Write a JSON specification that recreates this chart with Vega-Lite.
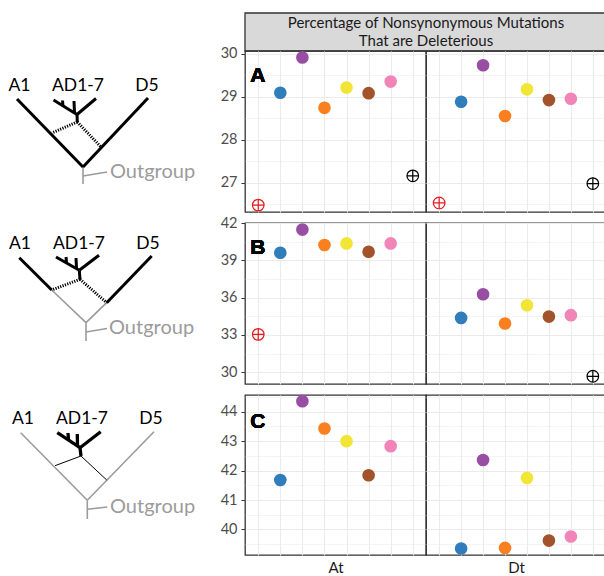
{
  "$schema": "https://vega.github.io/schema/vega-lite/v6.json",
  "padding": {"left": 0, "top": 12, "right": 0, "bottom": 0},
  "background": "white",
  "config": {
    "font": "Lato",
    "view": {"stroke": "#333333", "strokeWidth": 1.3},
    "axis": {"gridColor": "#EBEBEB", "labelFont": "Lato", "labelColor": "#4D4D4D", "labelFontSize": 14.5, "tickColor": "#333333", "tickSize": 4, "labelPadding": 4, "domain": false, "titleFont": "Lato", "titleFontWeight": "normal", "titleColor": "#1A1A1A", "titleFontSize": 15}
  },
  "datasets": {
    "pts": [
      {"row": "A", "genome": "At", "pos": 1, "group": "A1", "kind": "diploid", "value": 26.48},
      {"row": "A", "genome": "At", "pos": 2, "group": "AD1", "kind": "polyploid", "value": 29.09},
      {"row": "A", "genome": "At", "pos": 3, "group": "AD2", "kind": "polyploid", "value": 29.91},
      {"row": "A", "genome": "At", "pos": 4, "group": "AD3", "kind": "polyploid", "value": 28.74},
      {"row": "A", "genome": "At", "pos": 5, "group": "AD4", "kind": "polyploid", "value": 29.21},
      {"row": "A", "genome": "At", "pos": 6, "group": "AD5", "kind": "polyploid", "value": 29.08},
      {"row": "A", "genome": "At", "pos": 7, "group": "AD6", "kind": "polyploid", "value": 29.35},
      {"row": "A", "genome": "At", "pos": 8, "group": "D5", "kind": "diploid", "value": 27.16},
      {"row": "A", "genome": "Dt", "pos": 1, "group": "A1", "kind": "diploid", "value": 26.53},
      {"row": "A", "genome": "Dt", "pos": 2, "group": "AD1", "kind": "polyploid", "value": 28.88},
      {"row": "A", "genome": "Dt", "pos": 3, "group": "AD2", "kind": "polyploid", "value": 29.73},
      {"row": "A", "genome": "Dt", "pos": 4, "group": "AD3", "kind": "polyploid", "value": 28.55},
      {"row": "A", "genome": "Dt", "pos": 5, "group": "AD4", "kind": "polyploid", "value": 29.17},
      {"row": "A", "genome": "Dt", "pos": 6, "group": "AD5", "kind": "polyploid", "value": 28.92},
      {"row": "A", "genome": "Dt", "pos": 7, "group": "AD6", "kind": "polyploid", "value": 28.95},
      {"row": "A", "genome": "Dt", "pos": 8, "group": "D5", "kind": "diploid", "value": 26.98},
      {"row": "B", "genome": "At", "pos": 1, "group": "A1", "kind": "diploid", "value": 33.05},
      {"row": "B", "genome": "At", "pos": 2, "group": "AD1", "kind": "polyploid", "value": 39.61},
      {"row": "B", "genome": "At", "pos": 3, "group": "AD2", "kind": "polyploid", "value": 41.47},
      {"row": "B", "genome": "At", "pos": 4, "group": "AD3", "kind": "polyploid", "value": 40.23},
      {"row": "B", "genome": "At", "pos": 5, "group": "AD4", "kind": "polyploid", "value": 40.36},
      {"row": "B", "genome": "At", "pos": 6, "group": "AD5", "kind": "polyploid", "value": 39.69},
      {"row": "B", "genome": "At", "pos": 7, "group": "AD6", "kind": "polyploid", "value": 40.36},
      {"row": "B", "genome": "Dt", "pos": 2, "group": "AD1", "kind": "polyploid", "value": 34.37},
      {"row": "B", "genome": "Dt", "pos": 3, "group": "AD2", "kind": "polyploid", "value": 36.27},
      {"row": "B", "genome": "Dt", "pos": 4, "group": "AD3", "kind": "polyploid", "value": 33.92},
      {"row": "B", "genome": "Dt", "pos": 5, "group": "AD4", "kind": "polyploid", "value": 35.39},
      {"row": "B", "genome": "Dt", "pos": 6, "group": "AD5", "kind": "polyploid", "value": 34.48},
      {"row": "B", "genome": "Dt", "pos": 7, "group": "AD6", "kind": "polyploid", "value": 34.59},
      {"row": "B", "genome": "Dt", "pos": 8, "group": "D5", "kind": "diploid", "value": 29.68},
      {"row": "C", "genome": "At", "pos": 2, "group": "AD1", "kind": "polyploid", "value": 41.68},
      {"row": "C", "genome": "At", "pos": 3, "group": "AD2", "kind": "polyploid", "value": 44.36},
      {"row": "C", "genome": "At", "pos": 4, "group": "AD3", "kind": "polyploid", "value": 43.43},
      {"row": "C", "genome": "At", "pos": 5, "group": "AD4", "kind": "polyploid", "value": 43.0},
      {"row": "C", "genome": "At", "pos": 6, "group": "AD5", "kind": "polyploid", "value": 41.84},
      {"row": "C", "genome": "At", "pos": 7, "group": "AD6", "kind": "polyploid", "value": 42.83},
      {"row": "C", "genome": "Dt", "pos": 2, "group": "AD1", "kind": "polyploid", "value": 39.35},
      {"row": "C", "genome": "Dt", "pos": 3, "group": "AD2", "kind": "polyploid", "value": 42.36},
      {"row": "C", "genome": "Dt", "pos": 4, "group": "AD3", "kind": "polyploid", "value": 39.37},
      {"row": "C", "genome": "Dt", "pos": 5, "group": "AD4", "kind": "polyploid", "value": 41.75},
      {"row": "C", "genome": "Dt", "pos": 6, "group": "AD5", "kind": "polyploid", "value": 39.62},
      {"row": "C", "genome": "Dt", "pos": 7, "group": "AD6", "kind": "polyploid", "value": 39.76}
    ],
    "segs": [
      {"tree": "A", "type": "thick", "x": 17, "y": 98, "x2": 83, "y2": 166},
      {"tree": "A", "type": "thick", "x": 148, "y": 97, "x2": 83, "y2": 166},
      {"tree": "A", "type": "gray", "x": 83, "y": 166, "x2": 83, "y2": 183},
      {"tree": "A", "type": "gray", "x": 83, "y": 175, "x2": 107, "y2": 171},
      {"tree": "A", "type": "clade", "x": 53.5, "y": 99, "x2": 77, "y2": 113.5},
      {"tree": "A", "type": "clade", "x": 96, "y": 97.5, "x2": 77, "y2": 113.5},
      {"tree": "A", "type": "clade", "x": 77, "y": 113.5, "x2": 77.3, "y2": 121},
      {"tree": "A", "type": "clade", "x": 63, "y": 105.5, "x2": 62.5, "y2": 99.5},
      {"tree": "A", "type": "clade", "x": 74.5, "y": 112, "x2": 74, "y2": 100},
      {"tree": "A", "type": "dotted", "x": 77.3, "y": 121, "x2": 52, "y2": 132},
      {"tree": "A", "type": "dotted", "x": 77.3, "y": 121, "x2": 101, "y2": 146},
      {"tree": "B", "type": "thick", "x": 19.3, "y": 256.7, "x2": 51.7, "y2": 289},
      {"tree": "B", "type": "gray", "x": 51.7, "y": 289, "x2": 86, "y2": 321.7},
      {"tree": "B", "type": "thick", "x": 151.7, "y": 255, "x2": 106.7, "y2": 301.7},
      {"tree": "B", "type": "gray", "x": 106.7, "y": 301.7, "x2": 86, "y2": 321.7},
      {"tree": "B", "type": "gray", "x": 86, "y": 321.7, "x2": 86, "y2": 340},
      {"tree": "B", "type": "gray", "x": 86, "y": 331, "x2": 107, "y2": 327.5},
      {"tree": "B", "type": "clade", "x": 56, "y": 256, "x2": 79.3, "y2": 269.3},
      {"tree": "B", "type": "clade", "x": 99, "y": 254.3, "x2": 79.3, "y2": 269.3},
      {"tree": "B", "type": "clade", "x": 79.3, "y": 269.3, "x2": 80, "y2": 278.3},
      {"tree": "B", "type": "clade", "x": 66.5, "y": 261.7, "x2": 66, "y2": 256},
      {"tree": "B", "type": "clade", "x": 76.5, "y": 267.4, "x2": 76, "y2": 257},
      {"tree": "B", "type": "dotted", "x": 80, "y": 278.3, "x2": 51.7, "y2": 289},
      {"tree": "B", "type": "dotted", "x": 80, "y": 278.3, "x2": 106.7, "y2": 301.7},
      {"tree": "C", "type": "gray", "x": 20.7, "y": 431.7, "x2": 87.3, "y2": 499.3},
      {"tree": "C", "type": "gray", "x": 154, "y": 430.7, "x2": 87.3, "y2": 499.3},
      {"tree": "C", "type": "gray", "x": 87.3, "y": 499.3, "x2": 87.3, "y2": 518},
      {"tree": "C", "type": "gray", "x": 87.3, "y": 508.3, "x2": 107.3, "y2": 506},
      {"tree": "C", "type": "clade", "x": 57.3, "y": 431.7, "x2": 80, "y2": 446.7},
      {"tree": "C", "type": "clade", "x": 100.7, "y": 430.7, "x2": 80, "y2": 446.7},
      {"tree": "C", "type": "clade", "x": 80, "y": 446.7, "x2": 81, "y2": 455},
      {"tree": "C", "type": "clade", "x": 68.5, "y": 439.1, "x2": 68, "y2": 432},
      {"tree": "C", "type": "clade", "x": 77.5, "y": 445, "x2": 77.3, "y2": 433},
      {"tree": "C", "type": "thin", "x": 81, "y": 455, "x2": 55, "y2": 464.7},
      {"tree": "C", "type": "thin", "x": 81, "y": 455, "x2": 106.7, "y2": 479}
    ],
    "labels": [
      {"tree": "A", "label": "A1", "x": 19.5, "y": 85, "kind": "tip"},
      {"tree": "A", "label": "AD1-7", "x": 78, "y": 85, "kind": "tip"},
      {"tree": "A", "label": "D5", "x": 147, "y": 85, "kind": "tip"},
      {"tree": "A", "label": "Outgroup", "x": 110, "y": 171, "kind": "out"},
      {"tree": "B", "label": "A1", "x": 20, "y": 242.7, "kind": "tip"},
      {"tree": "B", "label": "AD1-7", "x": 79, "y": 242.7, "kind": "tip"},
      {"tree": "B", "label": "D5", "x": 148, "y": 242.7, "kind": "tip"},
      {"tree": "B", "label": "Outgroup", "x": 109, "y": 327, "kind": "out"},
      {"tree": "C", "label": "A1", "x": 23, "y": 418.3, "kind": "tip"},
      {"tree": "C", "label": "AD1-7", "x": 82, "y": 418.3, "kind": "tip"},
      {"tree": "C", "label": "D5", "x": 151, "y": 418.3, "kind": "tip"},
      {"tree": "C", "label": "Outgroup", "x": 110, "y": 506, "kind": "out"}
    ]
  },
  "columns": 3,
  "spacing": {"row": 0, "column": 0},
  "bounds": "flush",
  "resolve": {"scale": {"x": "independent", "y": "independent"}},
  "concat": [
    {"width": 245, "height": 38, "view": {"stroke": null}, "data": {"values": [{}]}, "mark": {"type": "text"}, "encoding": {"text": {"value": ""}}},
    {
      "width": 181, "height": 38,
      "view": {"stroke": null},
      "data": {"values": [{}]},
      "layer": [
        {"mark": {"type": "rect", "fill": "#D9D9D9", "stroke": "#333333", "strokeWidth": 1.3, "clip": false},
         "encoding": {
           "x": {"datum": 0, "type": "quantitative", "scale": {"domain": [0, 1]}, "axis": null},
           "x2": {"datum": 2},
           "y": {"datum": 0, "type": "quantitative", "scale": {"domain": [0, 1]}, "axis": null},
           "y2": {"datum": 1}
         }},
        {"mark": {"type": "text", "text": ["Percentage of Nonsynonymous Mutations", "That are Deleterious"], "fontSize": 15, "lineHeight": 18.3, "color": "#1A1A1A", "font": "Lato", "baseline": "middle", "align": "center"},
         "encoding": {
           "x": {"datum": 1, "type": "quantitative"},
           "y": {"datum": 0.745, "type": "quantitative"}
         }}
      ]
    },
    {"width": 180, "height": 38, "view": {"stroke": null}, "data": {"values": [{}]}, "mark": {"type": "text"}, "encoding": {"text": {"value": ""}}},

    {
      "width": 245, "height": 161,
      "view": {"stroke": null},
      "data": {"name": "segs"},
      "transform": [{"filter": "datum.tree == 'A'"}],
      "encoding": {
        "x": {"field": "x", "type": "quantitative", "scale": {"domain": [0, 245]}, "axis": null},
        "y": {"field": "y", "type": "quantitative", "scale": {"domain": [50, 211], "reverse": true}, "axis": null}
      },
      "layer": [
        {"transform": [{"filter": "datum.type == 'gray'"}], "mark": {"type": "rule", "color": "#9B9B9B", "strokeWidth": 1.6}, "encoding": {"x2": {"field": "x2"}, "y2": {"field": "y2"}}},
        {"transform": [{"filter": "datum.type == 'thick' || datum.type == 'clade'"}], "mark": {"type": "rule", "color": "#000000", "strokeWidth": 3}, "encoding": {"x2": {"field": "x2"}, "y2": {"field": "y2"}}},
        {"transform": [{"filter": "datum.type == 'dotted'"}], "mark": {"type": "rule", "color": "#000000", "strokeWidth": 3, "strokeDash": [1.2, 1.3]}, "encoding": {"x2": {"field": "x2"}, "y2": {"field": "y2"}}},
        {"data": {"name": "labels"}, "transform": [{"filter": "datum.tree == 'A' && datum.kind == 'tip'"}], "mark": {"type": "text", "fontSize": 17.5, "font": "Lato", "color": "#000000", "align": "center", "baseline": "middle"}, "encoding": {"text": {"field": "label"}}},
        {"data": {"name": "labels"}, "transform": [{"filter": "datum.tree == 'A' && datum.kind == 'out'"}], "mark": {"type": "text", "fontSize": 20, "font": "Lato", "color": "#9B9B9B", "align": "left", "baseline": "middle"}, "encoding": {"text": {"field": "label"}}}
      ]
    },
    {
      "width": 181, "height": 161,
      "data": {"name": "pts"},
      "transform": [{"filter": "datum.row == 'A' && datum.genome == 'At'"}],
      "encoding": {
        "x": {"field": "pos", "type": "quantitative", "scale": {"domain": [0.4, 8.6], "nice": false, "zero": false}, "axis": {"values": [1, 2, 3, 4, 5, 6, 7, 8], "labels": false, "ticks": false, "title": null, "gridWidth": 1.1}},
        "y": {"field": "value", "type": "quantitative", "scale": {"domain": [26.32, 30.06], "nice": false, "zero": false}, "axis": {"values": [26.5, 27, 27.5, 28, 28.5, 29, 29.5, 30], "title": null, "labelExpr": "datum.value % 1 === 0 ? format(datum.value, 'd') : ''", "tickOpacity": {"condition": {"test": "datum.value % 1 === 0", "value": 1}, "value": 0}, "gridWidth": {"condition": {"test": "datum.value % 1 === 0", "value": 1.1}, "value": 0.55}}},
        "color": {"field": "group", "type": "nominal", "scale": {"domain": ["A1", "AD1", "AD2", "AD3", "AD4", "AD5", "AD6", "D5"], "range": ["#E41A1C", "#2F7DBB", "#984EA3", "#FA7F1E", "#F1E635", "#A3532A", "#F185B8", "#000000"]}, "legend": null}
      },
      "layer": [
        {"transform": [{"filter": "datum.kind == 'polyploid'"}], "mark": {"type": "point", "shape": "circle", "filled": true, "size": 160, "opacity": 1}},
        {"transform": [{"filter": "datum.kind == 'diploid'"}], "mark": {"type": "point", "shape": "circle", "filled": false, "size": 135, "strokeWidth": 1.2, "opacity": 1}},
        {"transform": [{"filter": "datum.kind == 'diploid'"}], "mark": {"type": "point", "shape": "M-1,0L1,0M0,-1L0,1", "filled": false, "size": 135, "strokeWidth": 1.2, "opacity": 1}},
        {"mark": {"type": "text", "text": "A", "fontSize": 21, "fontWeight": "bold", "font": "Liberation Sans", "align": "left", "baseline": "alphabetic"}, "encoding": {"x": {"datum": 0.64, "type": "quantitative"}, "y": {"datum": 29.34, "type": "quantitative"}, "color": {"value": "#000000"}}}
      ]
    },
    {
      "width": 180, "height": 161,
      "data": {"name": "pts"},
      "transform": [{"filter": "datum.row == 'A' && datum.genome == 'Dt'"}],
      "encoding": {
        "x": {"field": "pos", "type": "quantitative", "scale": {"domain": [0.4, 8.6], "nice": false, "zero": false}, "axis": {"values": [1, 2, 3, 4, 5, 6, 7, 8], "labels": false, "ticks": false, "title": null, "gridWidth": 1.1}},
        "y": {"field": "value", "type": "quantitative", "scale": {"domain": [26.32, 30.06], "nice": false, "zero": false}, "axis": {"values": [26.5, 27, 27.5, 28, 28.5, 29, 29.5, 30], "title": null, "labels": false, "ticks": false, "gridWidth": {"condition": {"test": "datum.value % 1 === 0", "value": 1.1}, "value": 0.55}}},
        "color": {"field": "group", "type": "nominal", "scale": {"domain": ["A1", "AD1", "AD2", "AD3", "AD4", "AD5", "AD6", "D5"], "range": ["#E41A1C", "#2F7DBB", "#984EA3", "#FA7F1E", "#F1E635", "#A3532A", "#F185B8", "#000000"]}, "legend": null}
      },
      "layer": [
        {"transform": [{"filter": "datum.kind == 'polyploid'"}], "mark": {"type": "point", "shape": "circle", "filled": true, "size": 160, "opacity": 1}},
        {"transform": [{"filter": "datum.kind == 'diploid'"}], "mark": {"type": "point", "shape": "circle", "filled": false, "size": 135, "strokeWidth": 1.2, "opacity": 1}},
        {"transform": [{"filter": "datum.kind == 'diploid'"}], "mark": {"type": "point", "shape": "M-1,0L1,0M0,-1L0,1", "filled": false, "size": 135, "strokeWidth": 1.2, "opacity": 1}}
      ]
    },

    {"width": 245, "height": 11, "view": {"stroke": null}, "data": {"values": [{}]}, "mark": {"type": "text"}, "encoding": {"text": {"value": ""}}},
    {"width": 181, "height": 11, "view": {"stroke": null}, "data": {"values": [{}]}, "mark": {"type": "text"}, "encoding": {"text": {"value": ""}}},
    {"width": 180, "height": 11, "view": {"stroke": null}, "data": {"values": [{}]}, "mark": {"type": "text"}, "encoding": {"text": {"value": ""}}},

    {
      "width": 245, "height": 161,
      "view": {"stroke": null},
      "data": {"name": "segs"},
      "transform": [{"filter": "datum.tree == 'B'"}],
      "encoding": {
        "x": {"field": "x", "type": "quantitative", "scale": {"domain": [0, 245]}, "axis": null},
        "y": {"field": "y", "type": "quantitative", "scale": {"domain": [222, 383], "reverse": true}, "axis": null}
      },
      "layer": [
        {"transform": [{"filter": "datum.type == 'gray'"}], "mark": {"type": "rule", "color": "#9B9B9B", "strokeWidth": 1.6}, "encoding": {"x2": {"field": "x2"}, "y2": {"field": "y2"}}},
        {"transform": [{"filter": "datum.type == 'thick' || datum.type == 'clade'"}], "mark": {"type": "rule", "color": "#000000", "strokeWidth": 3}, "encoding": {"x2": {"field": "x2"}, "y2": {"field": "y2"}}},
        {"transform": [{"filter": "datum.type == 'dotted'"}], "mark": {"type": "rule", "color": "#000000", "strokeWidth": 3, "strokeDash": [1.2, 1.3]}, "encoding": {"x2": {"field": "x2"}, "y2": {"field": "y2"}}},
        {"data": {"name": "labels"}, "transform": [{"filter": "datum.tree == 'B' && datum.kind == 'tip'"}], "mark": {"type": "text", "fontSize": 17.5, "font": "Lato", "color": "#000000", "align": "center", "baseline": "middle"}, "encoding": {"text": {"field": "label"}}},
        {"data": {"name": "labels"}, "transform": [{"filter": "datum.tree == 'B' && datum.kind == 'out'"}], "mark": {"type": "text", "fontSize": 20, "font": "Lato", "color": "#9B9B9B", "align": "left", "baseline": "middle"}, "encoding": {"text": {"field": "label"}}}
      ]
    },
    {
      "width": 181, "height": 161,
      "data": {"name": "pts"},
      "transform": [{"filter": "datum.row == 'B' && datum.genome == 'At'"}],
      "encoding": {
        "x": {"field": "pos", "type": "quantitative", "scale": {"domain": [0.4, 8.6], "nice": false, "zero": false}, "axis": {"values": [1, 2, 3, 4, 5, 6, 7, 8], "labels": false, "ticks": false, "title": null, "gridWidth": 1.1}},
        "y": {"field": "value", "type": "quantitative", "scale": {"domain": [29.06, 42.0], "nice": false, "zero": false}, "axis": {"values": [30, 31.5, 33, 34.5, 36, 37.5, 39, 40.5, 42], "title": null, "labelExpr": "datum.value % 3 === 0 ? format(datum.value, 'd') : ''", "tickOpacity": {"condition": {"test": "datum.value % 3 === 0", "value": 1}, "value": 0}, "gridWidth": {"condition": {"test": "datum.value % 3 === 0", "value": 1.1}, "value": 0.55}}},
        "color": {"field": "group", "type": "nominal", "scale": {"domain": ["A1", "AD1", "AD2", "AD3", "AD4", "AD5", "AD6", "D5"], "range": ["#E41A1C", "#2F7DBB", "#984EA3", "#FA7F1E", "#F1E635", "#A3532A", "#F185B8", "#000000"]}, "legend": null}
      },
      "layer": [
        {"transform": [{"filter": "datum.kind == 'polyploid'"}], "mark": {"type": "point", "shape": "circle", "filled": true, "size": 160, "opacity": 1}},
        {"transform": [{"filter": "datum.kind == 'diploid'"}], "mark": {"type": "point", "shape": "circle", "filled": false, "size": 135, "strokeWidth": 1.2, "opacity": 1}},
        {"transform": [{"filter": "datum.kind == 'diploid'"}], "mark": {"type": "point", "shape": "M-1,0L1,0M0,-1L0,1", "filled": false, "size": 135, "strokeWidth": 1.2, "opacity": 1}},
        {"mark": {"type": "text", "text": "B", "fontSize": 21, "fontWeight": "bold", "font": "Liberation Sans", "align": "left", "baseline": "alphabetic"}, "encoding": {"x": {"datum": 0.64, "type": "quantitative"}, "y": {"datum": 39.48, "type": "quantitative"}, "color": {"value": "#000000"}}}
      ]
    },
    {
      "width": 180, "height": 161,
      "data": {"name": "pts"},
      "transform": [{"filter": "datum.row == 'B' && datum.genome == 'Dt'"}],
      "encoding": {
        "x": {"field": "pos", "type": "quantitative", "scale": {"domain": [0.4, 8.6], "nice": false, "zero": false}, "axis": {"values": [1, 2, 3, 4, 5, 6, 7, 8], "labels": false, "ticks": false, "title": null, "gridWidth": 1.1}},
        "y": {"field": "value", "type": "quantitative", "scale": {"domain": [29.06, 42.0], "nice": false, "zero": false}, "axis": {"values": [30, 31.5, 33, 34.5, 36, 37.5, 39, 40.5, 42], "title": null, "labels": false, "ticks": false, "gridWidth": {"condition": {"test": "datum.value % 3 === 0", "value": 1.1}, "value": 0.55}}},
        "color": {"field": "group", "type": "nominal", "scale": {"domain": ["A1", "AD1", "AD2", "AD3", "AD4", "AD5", "AD6", "D5"], "range": ["#E41A1C", "#2F7DBB", "#984EA3", "#FA7F1E", "#F1E635", "#A3532A", "#F185B8", "#000000"]}, "legend": null}
      },
      "layer": [
        {"transform": [{"filter": "datum.kind == 'polyploid'"}], "mark": {"type": "point", "shape": "circle", "filled": true, "size": 160, "opacity": 1}},
        {"transform": [{"filter": "datum.kind == 'diploid'"}], "mark": {"type": "point", "shape": "circle", "filled": false, "size": 135, "strokeWidth": 1.2, "opacity": 1}},
        {"transform": [{"filter": "datum.kind == 'diploid'"}], "mark": {"type": "point", "shape": "M-1,0L1,0M0,-1L0,1", "filled": false, "size": 135, "strokeWidth": 1.2, "opacity": 1}}
      ]
    },

    {"width": 245, "height": 11, "view": {"stroke": null}, "data": {"values": [{}]}, "mark": {"type": "text"}, "encoding": {"text": {"value": ""}}},
    {"width": 181, "height": 11, "view": {"stroke": null}, "data": {"values": [{}]}, "mark": {"type": "text"}, "encoding": {"text": {"value": ""}}},
    {"width": 180, "height": 11, "view": {"stroke": null}, "data": {"values": [{}]}, "mark": {"type": "text"}, "encoding": {"text": {"value": ""}}},

    {
      "width": 245, "height": 160,
      "view": {"stroke": null},
      "data": {"name": "segs"},
      "transform": [{"filter": "datum.tree == 'C'"}],
      "encoding": {
        "x": {"field": "x", "type": "quantitative", "scale": {"domain": [0, 245]}, "axis": null},
        "y": {"field": "y", "type": "quantitative", "scale": {"domain": [394, 554], "reverse": true}, "axis": null}
      },
      "layer": [
        {"transform": [{"filter": "datum.type == 'gray'"}], "mark": {"type": "rule", "color": "#9B9B9B", "strokeWidth": 1.6}, "encoding": {"x2": {"field": "x2"}, "y2": {"field": "y2"}}},
        {"transform": [{"filter": "datum.type == 'clade'"}], "mark": {"type": "rule", "color": "#000000", "strokeWidth": 3.3}, "encoding": {"x2": {"field": "x2"}, "y2": {"field": "y2"}}},
        {"transform": [{"filter": "datum.type == 'thin'"}], "mark": {"type": "rule", "color": "#000000", "strokeWidth": 1}, "encoding": {"x2": {"field": "x2"}, "y2": {"field": "y2"}}},
        {"data": {"name": "labels"}, "transform": [{"filter": "datum.tree == 'C' && datum.kind == 'tip'"}], "mark": {"type": "text", "fontSize": 17.5, "font": "Lato", "color": "#000000", "align": "center", "baseline": "middle"}, "encoding": {"text": {"field": "label"}}},
        {"data": {"name": "labels"}, "transform": [{"filter": "datum.tree == 'C' && datum.kind == 'out'"}], "mark": {"type": "text", "fontSize": 20, "font": "Lato", "color": "#9B9B9B", "align": "left", "baseline": "middle"}, "encoding": {"text": {"field": "label"}}}
      ]
    },
    {
      "width": 181, "height": 160,
      "data": {"name": "pts"},
      "transform": [{"filter": "datum.row == 'C' && datum.genome == 'At'"}],
      "encoding": {
        "x": {"field": "pos", "type": "quantitative", "scale": {"domain": [0.4, 8.6], "nice": false, "zero": false}, "axis": {"values": [1, 2, 3, 4, 5, 6, 7, 8], "labels": false, "ticks": false, "title": "At", "titlePadding": 5, "titleFontSize": 15, "gridWidth": 1.1}},
        "y": {"field": "value", "type": "quantitative", "scale": {"domain": [39.13, 44.57], "nice": false, "zero": false}, "axis": {"values": [39.5, 40, 40.5, 41, 41.5, 42, 42.5, 43, 43.5, 44, 44.5], "title": null, "labelExpr": "datum.value % 1 === 0 ? format(datum.value, 'd') : ''", "tickOpacity": {"condition": {"test": "datum.value % 1 === 0", "value": 1}, "value": 0}, "gridWidth": {"condition": {"test": "datum.value % 1 === 0", "value": 1.1}, "value": 0.55}}},
        "color": {"field": "group", "type": "nominal", "scale": {"domain": ["A1", "AD1", "AD2", "AD3", "AD4", "AD5", "AD6", "D5"], "range": ["#E41A1C", "#2F7DBB", "#984EA3", "#FA7F1E", "#F1E635", "#A3532A", "#F185B8", "#000000"]}, "legend": null}
      },
      "layer": [
        {"transform": [{"filter": "datum.kind == 'polyploid'"}], "mark": {"type": "point", "shape": "circle", "filled": true, "size": 160, "opacity": 1}},
        {"mark": {"type": "text", "text": "C", "fontSize": 21, "fontWeight": "bold", "font": "Liberation Sans", "align": "left", "baseline": "alphabetic"}, "encoding": {"x": {"datum": 0.64, "type": "quantitative"}, "y": {"datum": 43.46, "type": "quantitative"}, "color": {"value": "#000000"}}}
      ]
    },
    {
      "width": 180, "height": 160,
      "data": {"name": "pts"},
      "transform": [{"filter": "datum.row == 'C' && datum.genome == 'Dt'"}],
      "encoding": {
        "x": {"field": "pos", "type": "quantitative", "scale": {"domain": [0.4, 8.6], "nice": false, "zero": false}, "axis": {"values": [1, 2, 3, 4, 5, 6, 7, 8], "labels": false, "ticks": false, "title": "Dt", "titlePadding": 5, "titleFontSize": 15, "gridWidth": 1.1}},
        "y": {"field": "value", "type": "quantitative", "scale": {"domain": [39.13, 44.57], "nice": false, "zero": false}, "axis": {"values": [39.5, 40, 40.5, 41, 41.5, 42, 42.5, 43, 43.5, 44, 44.5], "title": null, "labels": false, "ticks": false, "gridWidth": {"condition": {"test": "datum.value % 1 === 0", "value": 1.1}, "value": 0.55}}},
        "color": {"field": "group", "type": "nominal", "scale": {"domain": ["A1", "AD1", "AD2", "AD3", "AD4", "AD5", "AD6", "D5"], "range": ["#E41A1C", "#2F7DBB", "#984EA3", "#FA7F1E", "#F1E635", "#A3532A", "#F185B8", "#000000"]}, "legend": null}
      },
      "layer": [
        {"transform": [{"filter": "datum.kind == 'polyploid'"}], "mark": {"type": "point", "shape": "circle", "filled": true, "size": 160, "opacity": 1}}
      ]
    }
  ]
}
